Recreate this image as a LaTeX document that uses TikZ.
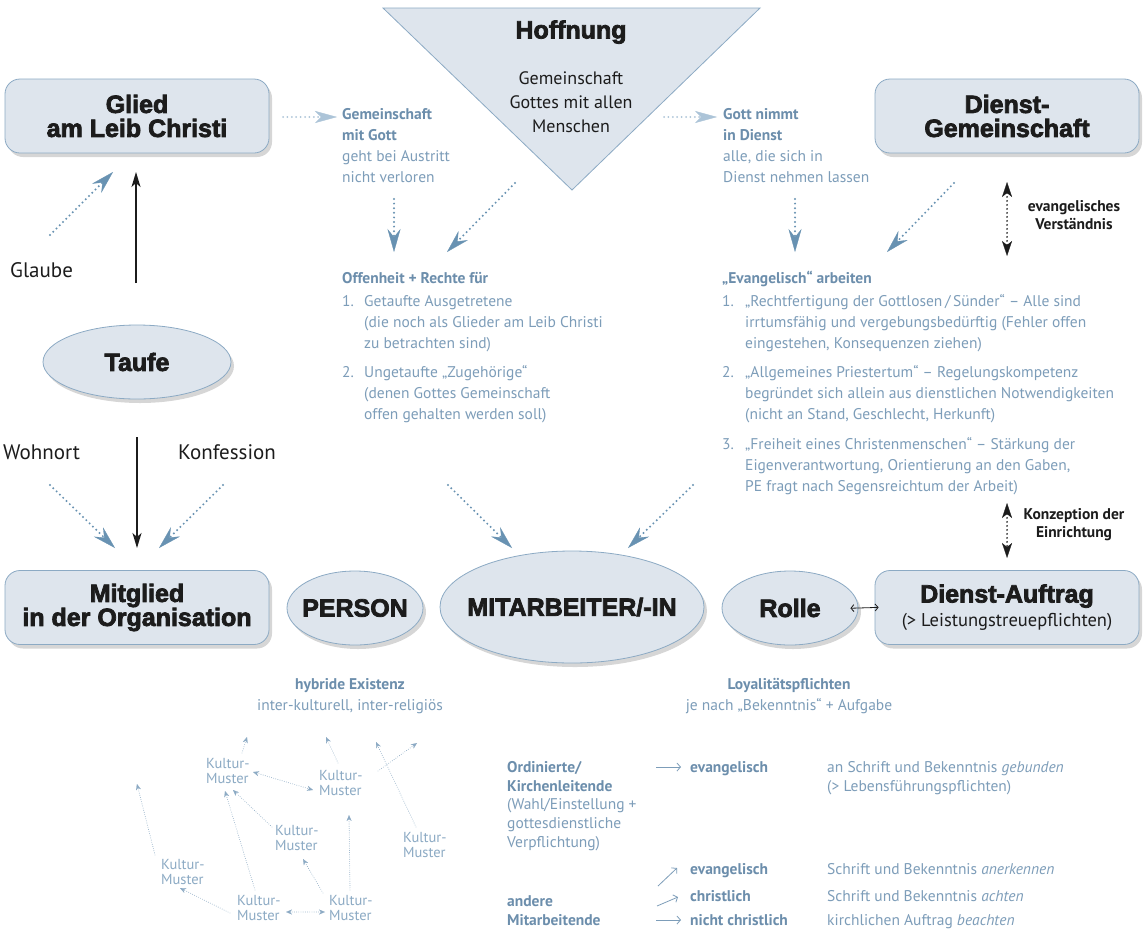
\documentclass[tikz,border=0pt]{standalone}
\usepackage{fontspec}
\setmainfont{PT Sans}
\newfontfamily\heavy{Liberation Sans}[BoldFeatures={FakeBold=3}]
\usetikzlibrary{arrows.meta,shapes.geometric,shadows}
\definecolor{boxfill}{RGB}{222,229,237}
\definecolor{boxdraw}{RGB}{140,170,196}
\definecolor{tblue}{RGB}{125,157,185}
\definecolor{hblue}{RGB}{108,142,172}
\definecolor{ablue}{RGB}{104,146,178}
\definecolor{lblue}{RGB}{172,196,216}
\definecolor{kblue}{RGB}{140,170,196}
\definecolor{ink}{RGB}{28,28,28}
\newcommand\fhead{\heavy\bfseries\fontsize{25}{24}\selectfont}
\newcommand\fbody{\fontsize{15.5}{21}\selectfont}
\newcommand\ftab{\fontsize{15.5}{18.7}\selectfont}
\newcommand\fbig{\fontsize{18}{24}\selectfont}
\newcommand\flabel{\fontsize{21}{24}\selectfont}
\newcommand\fsmall{\fontsize{14.5}{15.5}\selectfont}
\newcommand\fnote{\bfseries\fontsize{15.5}{18}\selectfont}
\newcommand\zw[1]{\makebox[0pt]{#1}}
\tikzset{
  shadowed/.style={drop shadow={shadow xshift=3pt,shadow yshift=-4pt,opacity=0.16,fill=black}},
  gbox/.style={draw=boxdraw,fill=boxfill,line width=0.8pt,rounded corners=15pt,
    minimum width=264pt,minimum height=74pt,inner sep=0pt,align=center,font=\fhead,text=ink,shadowed},
  gell/.style={ellipse,draw=boxdraw,fill=boxfill,line width=0.8pt,inner sep=0pt,font=\fhead,text=ink,shadowed},
  tri/.style={draw=boxdraw,fill=boxfill,line width=0.8pt},
  btxt/.style={inner sep=0pt,text=tblue,font=\fbody,align=left,anchor=north west},
  bnum/.style={inner sep=0pt,text=tblue,font=\fbody,anchor=base west},
  bhead/.style={inner sep=0pt,text=hblue,font=\fbody\bfseries,anchor=base west},
  ttxt/.style={inner sep=0pt,text=tblue,font=\ftab,align=left,anchor=north west},
  thead/.style={inner sep=0pt,text=hblue,font=\ftab\bfseries,anchor=base west},
  tdesc/.style={inner sep=0pt,text=tblue,font=\ftab,anchor=base west},
  klabel/.style={inner sep=0pt,text=ink,font=\flabel,anchor=base west},
  note/.style={inner sep=0pt,text=ink,font=\fnote,align=center,anchor=north},
  kult/.style={inner sep=0pt,text=kblue,font=\fsmall,align=left,anchor=north west},
  dotarr/.style={ablue,line width=2.2pt,dash pattern=on 0pt off 4.6pt,line cap=round,
    -{Stealth[length=23pt,width=13pt,inset=8pt,line width=0.3pt]}},
  lightarr/.style={lblue,line width=2pt,dash pattern=on 0pt off 4.4pt,line cap=round,
    -{Stealth[length=22pt,width=12pt,inset=6pt,line width=0.3pt]}},
  blackarr/.style={ink,line width=1.3pt,-{Stealth[length=15pt,width=9pt,inset=4pt]}},
  bdotarr/.style={ink,line width=1.8pt,dash pattern=on 0pt off 4pt,line cap=round,
    {Stealth[length=15pt,width=10pt,inset=4pt,line width=0.3pt]}-{Stealth[length=15pt,width=10pt,inset=4pt,line width=0.3pt]}},
  sarr/.style={ink,line width=0.8pt,{Straight Barb[length=3pt,width=7pt]}-{Straight Barb[length=3pt,width=7pt]}},
  karr/.style={kblue,line width=0.9pt,dash pattern=on 0pt off 2.2pt,line cap=round,
    -{Stealth[length=6pt,width=5pt,line width=0.2pt]}},
  kdarr/.style={kblue,line width=0.9pt,dash pattern=on 0pt off 2.2pt,line cap=round,
    {Stealth[length=6pt,width=5pt,line width=0.2pt]}-{Stealth[length=6pt,width=5pt,line width=0.2pt]}},
  tarr/.style={tblue,line width=0.8pt,-{Straight Barb[length=3.5pt,width=8pt]}}
}
\begin{document}
\begin{tikzpicture}[x=1pt,y=-1pt]
\useasboundingbox (0,0) rectangle (1147,929);
\fill[white] (0,0) rectangle (1147,929);

% Hoffnung triangle
\draw[tri] (383,8) -- (760,8) -- (572,190) -- cycle;
\node[font=\fhead,text=ink,anchor=base,inner sep=0pt] (hoff) at (571,38.5) {Hoffnung};
\node[font=\fbig,text=ink,anchor=north,align=center,inner sep=0pt] (hofftxt) at (571,67) {\strut Gemeinschaft\\Gottes mit allen\\Menschen};

% boxes
\node[gbox] (glied) at (137,116) {Glied\\am Leib Christi};
\node[gbox] (dgem) at (1007,116) {Dienst-\\Gemeinschaft};
\node[gbox] (mitgl) at (137,607.5) {Mitglied\\in der Organisation};
\node[gbox] (dauf) at (1007,607.5) {Dienst-Auftrag\\{\normalfont\fontsize{18.5}{24}\selectfont (> Leistungstreuepflichten)}};

% ellipses
\node[gell,minimum width=188pt,minimum height=74pt] (taufe) at (137,362) {\zw{Taufe}};
\node[gell,minimum width=136pt,minimum height=74pt] (person) at (355,608) {\zw{PERSON}};
\node[gell,minimum width=264pt,minimum height=112pt] (ma) at (572,607) {\zw{MITARBEITER/-IN}};
\node[gell,minimum width=136pt,minimum height=74pt] (rolle) at (790,608) {\zw{Rolle}};
\draw[sarr,shorten <=-8pt,shorten >=-4pt] (rolle.east) -- (dauf.west);

% black labels
\node[klabel] (glaube) at (10,277) {Glaube};
\node[klabel] (wohnort) at (3,459) {Wohnort};
\node[klabel] (konf) at (178,459) {Konfession};

% left arrows
\coordinate (gl1) at (50,235);  \coordinate (gl2) at (113,172);
\draw[dotarr] (gl1) -- (gl2);
\coordinate (up1) at (136,283); \coordinate (up2) at (136,172);
\draw[blackarr] (up1) -- (up2);
\coordinate (dn1) at (137,437); \coordinate (dn2) at (137,548);
\draw[blackarr] (dn1) -- (dn2);
\coordinate (wo1) at (50,485);  \coordinate (wo2) at (115,548);
\draw[dotarr] (wo1) -- (wo2);
\coordinate (ko1) at (223,485); \coordinate (ko2) at (159,548);
\draw[dotarr] (ko1) -- (ko2);

% top middle texts
\node[btxt] (gemgott) at (342,104.6) {\strut\textbf{\color{hblue}Gemeinschaft}\\\textbf{\color{hblue}mit Gott}\\geht bei Austritt\\nicht verloren};
\node[btxt] (gottdienst) at (723,104.6) {\strut\textbf{\color{hblue}Gott nimmt}\\\textbf{\color{hblue}in Dienst}\\alle, die sich in\\Dienst nehmen lassen};

\coordinate (la1) at (283,117); \coordinate (la2) at (337,117);
\draw[lightarr] (la1) -- (la2);
\coordinate (lb1) at (664,117); \coordinate (lb2) at (717,117);
\draw[lightarr] (lb1) -- (lb2);

\coordinate (d1a) at (394,199); \coordinate (d1b) at (394,252);
\draw[dotarr] (d1a) -- (d1b);
\coordinate (t1a) at (515,183); \coordinate (t1b) at (447,252);
\draw[dotarr] (t1a) -- (t1b);
\coordinate (d2a) at (795,199); \coordinate (d2b) at (795,252);
\draw[dotarr] (d2a) -- (d2b);
\coordinate (g1a) at (954,183); \coordinate (g1b) at (887,252);
\draw[dotarr] (g1a) -- (g1b);

% black dotted double arrows
\coordinate (ev1) at (1007,182); \coordinate (ev2) at (1007,256);
\draw[bdotarr] (ev1) -- (ev2);
\node[note] (evnote) at (1074,198.7) {\strut evangelisches\\Verständnis};
\coordinate (kz1) at (1007,503); \coordinate (kz2) at (1007,558);
\draw[bdotarr] (kz1) -- (kz2);
\node[note] (kznote) at (1074,506.7) {\strut Konzeption der\\Einrichtung};

% Offenheit list
\node[bhead] (offen) at (342,283.3) {Offenheit + Rechte für};
\node[bnum] (on1) at (342,306.3) {1.};
\node[btxt] (oi1) at (364,291.6) {\strut Getaufte Ausgetretene\\(die noch als Glieder am Leib Christi\\zu betrachten sind)};
\node[bnum] (on2) at (342,377.3) {2.};
\node[btxt] (oi2) at (364,362.6) {\strut Ungetaufte „Zugehörige“\\(denen Gottes Gemeinschaft\\offen gehalten werden soll)};

% Evangelisch list
\node[bhead] (evarb) at (722,283.3) {„Evangelisch“ arbeiten};
\node[bnum] (en1) at (722,306.3) {1.};
\node[btxt] (ei1) at (745,291.6) {\strut „Rechtfertigung der Gottlosen\,/\,Sünder“ – Alle sind\\irrtumsfähig und vergebungsbedürftig (Fehler offen\\eingestehen, Konsequenzen ziehen)};
\node[bnum] (en2) at (722,377.3) {2.};
\node[btxt] (ei2) at (745,362.6) {\strut „Allgemeines Priestertum“ – Regelungskompetenz\\begründet sich allein aus dienstlichen Notwendigkeiten\\(nicht an Stand, Geschlecht, Herkunft)};
\node[bnum] (en3) at (722,449.3) {3.};
\node[btxt] (ei3) at (745,434.6) {\strut „Freiheit eines Christenmenschen“ – Stärkung der\\Eigenverantwortung, Orientierung an den Gaben,\\PE fragt nach Segensreichtum der Arbeit)};

% arrows to Mitarbeiter
\coordinate (m1a) at (448,485); \coordinate (m1b) at (512,548);
\draw[dotarr] (m1a) -- (m1b);
\coordinate (m2a) at (693,485); \coordinate (m2b) at (628,548);
\draw[dotarr] (m2a) -- (m2b);

% under ellipses
\node[btxt,anchor=north,align=center] (hybrid) at (350,674.6) {\strut\textbf{\color{hblue}hybride Existenz}\\inter-kulturell, inter-religiös};
\node[btxt,anchor=north,align=center] (loyal) at (789,674.6) {\strut\textbf{\color{hblue}Loyalitätspflichten}\\je nach „Bekenntnis“ + Aufgabe};

% Kultur-Muster
\node[kult] (k1) at (206,757.1) {\strut Kultur-\\Muster};
\node[kult] (k2) at (319,769.1) {\strut Kultur-\\Muster};
\node[kult] (k3) at (275,824.1) {\strut Kultur-\\Muster};
\node[kult] (k4) at (403,831.1) {\strut Kultur-\\Muster};
\node[kult] (k5) at (161,858.1) {\strut Kultur-\\Muster};
\node[kult] (k6) at (237,894.1) {\strut Kultur-\\Muster};
\node[kult] (k7) at (329,894.1) {\strut Kultur-\\Muster};
\coordinate (ka1) at (242,753); \coordinate (ka2) at (247,737);
\draw[karr] (ka1) -- (ka2);
\coordinate (kb1) at (253,772); \coordinate (kb2) at (313,790);
\draw[kdarr] (kb1) -- (kb2);
\coordinate (kc1) at (338,763); \coordinate (kc2) at (326,737);
\draw[karr] (kc1) -- (kc2);
\coordinate (kd1) at (378,771); \coordinate (kd2) at (417,743);
\draw[karr] (kd1) -- (kd2);
\coordinate (ke1) at (416,827); \coordinate (ke2) at (376,742);
\draw[karr] (ke1) -- (ke2);
\coordinate (kf1) at (272,827); \coordinate (kf2) at (233,790);
\draw[karr] (kf1) -- (kf2);
\coordinate (kg1) at (255,890); \coordinate (kg2) at (225,791);
\draw[karr] (kg1) -- (kg2);
\coordinate (kh1) at (155,855); \coordinate (kh2) at (137,784);
\draw[karr] (kh1) -- (kh2);
\coordinate (ki1) at (230,913); \coordinate (ki2) at (180,888);
\draw[karr] (ki1) -- (ki2);
\coordinate (kj1) at (286,912); \coordinate (kj2) at (325,912);
\draw[kdarr] (kj1) -- (kj2);
\coordinate (kk1) at (323,893); \coordinate (kk2) at (303,859);
\draw[karr] (kk1) -- (kk2);
\coordinate (kl1) at (350,890); \coordinate (kl2) at (349,815);
\draw[karr] (kl1) -- (kl2);

% table
\node[ttxt] (ordin) at (507,759.2) {\strut\textbf{\color{hblue}Ordinierte/}\\\textbf{\color{hblue}Kirchenleitende}\\(Wahl/Einstellung +\\gottesdienstliche\\Verpflichtung)};
\node[ttxt] (andere) at (507,893.2) {\strut\textbf{\color{hblue}andere}\\\textbf{\color{hblue}Mitarbeitende}};
\coordinate (ta1) at (656,767); \coordinate (ta2) at (681,767);
\draw[tarr] (ta1) -- (ta2);
\node[thead] (ev1t) at (690,772.3) {evangelisch};
\node[ttxt] (geb) at (827,759.2) {\strut an Schrift und Bekenntnis \textit{gebunden}\\(> Lebensführungspflichten)};
\coordinate (tb1) at (658,886); \coordinate (tb2) at (677,868);
\draw[tarr] (tb1) -- (tb2);
\node[thead] (ev2t) at (690,874.3) {evangelisch};
\node[tdesc] (anerk) at (827,874.3) {Schrift und Bekenntnis \textit{anerkennen}};
\coordinate (tc1) at (657,906); \coordinate (tc2) at (678,897);
\draw[tarr] (tc1) -- (tc2);
\node[thead] (chr) at (690,901.3) {christlich};
\node[tdesc] (acht) at (827,901.3) {Schrift und Bekenntnis \textit{achten}};
\coordinate (td1) at (656,920); \coordinate (td2) at (681,920);
\draw[tarr] (td1) -- (td2);
\node[thead] (nchr) at (690,925) {nicht christlich};
\node[tdesc] (beacht) at (827,925) {kirchlichen Auftrag \textit{beachten}};
\end{tikzpicture}
\end{document}
